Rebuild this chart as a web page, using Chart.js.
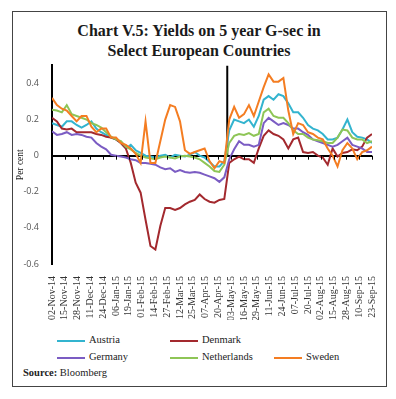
<!DOCTYPE html>
<html>
<head>
<meta charset="utf-8">
<script src="https://cdn.jsdelivr.net/npm/chart.js@4.4.1/dist/chart.umd.min.js"></script>
<style>
  html, body { margin: 0; padding: 0; background: #fff; }
  body { width: 396px; height: 399px; position: relative; overflow: hidden; }
  #frame { position: absolute; left: 12px; top: 11px; width: 375px; height: 376px; border: 1px solid #444; box-sizing: border-box; }
  #title { position: absolute; left: 0; top: 21px; width: 398px; text-align: center; font: bold 16px "Liberation Serif", serif; line-height: 20px; color: #1a1a1a; }
  #chart { position: absolute; left: 0; top: 47px; }
  .legLine { position: absolute; width: 28px; height: 2px; }
  .legText { position: absolute; font: 10.5px "Liberation Serif", serif; line-height: 14px; color: #222; white-space: nowrap; }
  #source { position: absolute; left: 23px; top: 366px; font: 10.5px "Liberation Serif", serif; line-height: 14px; color: #222; }
</style>
</head>
<body>
<div id="frame"></div>
<div id="title">Chart V.5: Yields on 5 year G-sec in<br>Select European Countries</div>
<canvas id="chart" width="396" height="273"></canvas>
<div id="legend"></div>
<div id="source"><b>Source:</b> Bloomberg</div>

<script>
// days since 02-Nov-14, one sample every 5 days
const days = [
  0, 5, 10, 15, 20, 25, 30, 35, 40, 45,
  50, 55, 60, 65, 70, 75, 80, 85, 90, 95,
  100, 105, 110, 115, 120, 125, 130, 135, 140, 145,
  150, 155, 160, 165, 170, 175, 180, 185, 190, 195,
  200, 205, 210, 215, 220, 225, 230, 235, 240, 245,
  250, 255, 260, 265, 270, 275, 280, 285, 290, 295,
  300, 305, 310, 315, 320, 325
];

const austria = [
  0.18, 0.17, 0.16, 0.19, 0.19, 0.17, 0.155, 0.17, 0.19, 0.15,
  0.13, 0.115, 0.10, 0.09, 0.07, 0.04, 0.06, 0.03, 0.015, 0.00,
  -0.005, -0.01, 0.00, 0.005, -0.01, 0.005, 0.00, -0.005, 0.005, 0.02,
  0.00, -0.01, -0.035, -0.06, -0.06, -0.03, 0.14, 0.20, 0.19, 0.18,
  0.20, 0.16, 0.22, 0.31, 0.33, 0.31, 0.34, 0.33, 0.29, 0.24,
  0.24, 0.21, 0.17, 0.15, 0.14, 0.12, 0.09, 0.09, 0.10, 0.145,
  0.20, 0.13, 0.105, 0.10, 0.09, 0.07
];

const denmark = [
  0.21, 0.19, 0.15, 0.145, 0.15, 0.13, 0.13, 0.13, 0.13, 0.12,
  0.115, 0.105, 0.10, 0.09, 0.07, 0.04, -0.04, -0.15, -0.205, -0.355,
  -0.50, -0.52, -0.39, -0.29, -0.29, -0.30, -0.29, -0.27, -0.255, -0.245,
  -0.215, -0.24, -0.255, -0.26, -0.245, -0.24, -0.04, -0.02, -0.005, -0.02,
  -0.02, -0.04, 0.04, 0.11, 0.14, 0.12, 0.11, 0.09, 0.04, 0.09,
  0.10, 0.02, 0.015, 0.02, 0.00, -0.01, -0.05, 0.04, -0.005, 0.015,
  0.02, 0.035, 0.03, 0.05, 0.10, 0.12
];

const germany = [
  0.135, 0.115, 0.12, 0.13, 0.115, 0.12, 0.115, 0.105, 0.10, 0.07,
  0.05, 0.035, 0.005, 0.00, -0.005, -0.01, -0.02, -0.025, -0.04, -0.04,
  -0.045, -0.05, -0.065, -0.075, -0.07, -0.09, -0.08, -0.09, -0.095, -0.09,
  -0.095, -0.105, -0.115, -0.125, -0.145, -0.12, -0.02, 0.035, 0.08, 0.06,
  0.06, 0.05, 0.06, 0.18, 0.21, 0.19, 0.17, 0.18, 0.17, 0.15,
  0.15, 0.13, 0.115, 0.09, 0.08, 0.07, 0.06, 0.05, 0.06, 0.08,
  0.10, 0.06, 0.05, 0.04, 0.02, 0.02
];

const netherlands = [
  0.255, 0.25, 0.24, 0.28, 0.23, 0.22, 0.21, 0.20, 0.18, 0.17,
  0.155, 0.13, 0.105, 0.09, 0.08, 0.05, 0.035, 0.015, 0.00, -0.01,
  -0.015, -0.02, -0.01, -0.005, -0.01, -0.015, -0.005, 0.00, -0.005, -0.01,
  -0.02, -0.04, -0.06, -0.085, -0.09, -0.05, 0.07, 0.11, 0.12, 0.115,
  0.125, 0.11, 0.12, 0.24, 0.26, 0.22, 0.21, 0.21, 0.18, 0.14,
  0.12, 0.12, 0.10, 0.09, 0.085, 0.08, 0.07, 0.07, 0.10, 0.145,
  0.14, 0.10, 0.09, 0.09, 0.07, 0.08
];

const sweden = [
  0.32, 0.28, 0.26, 0.25, 0.22, 0.19, 0.22, 0.22, 0.16, 0.13,
  0.15, 0.15, 0.10, 0.10, 0.07, 0.06, 0.04, 0.01, -0.04, 0.19,
  -0.04, -0.04, 0.08, 0.20, 0.28, 0.27, 0.19, 0.03, 0.01, 0.02,
  0.03, 0.04, -0.03, -0.07, -0.03, -0.04, 0.20, 0.27, 0.21, 0.23,
  0.28, 0.22, 0.30, 0.38, 0.45, 0.41, 0.41, 0.43, 0.25, 0.12,
  0.18, 0.17, 0.13, 0.12, 0.10, 0.09, 0.04, 0.00, -0.06, 0.03,
  0.07, 0.04, -0.02, 0.02, 0.03, 0.05
];

const seriesNames = ["Austria", "Denmark", "Germany", "Netherlands", "Sweden"];
const seriesValues = [austria, denmark, germany, netherlands, sweden];
const seriesColors = ["#33b4cf", "#a3292e", "#7b5cc3", "#8ec556", "#f47d22"];

// x tick labels every 13 days
const xTickLabels = [
  "02-Nov-14", "15-Nov-14", "28-Nov-14", "11-Dec-14", "24-Dec-14", "06-Jan-15",
  "19-Jan-15", "01-Feb-15", "14-Feb-15", "27-Feb-15", "12-Mar-15", "25-Mar-15",
  "07-Apr-15", "20-Apr-15", "03-May-15", "16-May-15", "29-May-15", "11-Jun-15",
  "24-Jun-15", "07-Jul-15", "20-Jul-15", "02-Aug-15", "15-Aug-15", "28-Aug-15",
  "10-Sep-15", "23-Sep-15"
];
const xTickStep = 13;
const yTicks = [-0.6, -0.4, -0.2, 0, 0.2, 0.4];
const markerDay = 178; // 29-Apr-15 vertical line

// legend placement (row, column)
const legendSlots = [[0, 0], [0, 1], [1, 0], [1, 1], [1, 2]];
const legendColX = [57, 170, 274];
const legendRowY = [341, 358];

const legend = document.getElementById("legend");
seriesNames.forEach((name, i) => {
  const [row, col] = legendSlots[i];
  const line = document.createElement("div");
  line.className = "legLine";
  line.style.left = legendColX[col] + "px";
  line.style.top = (legendRowY[row] - 1) + "px";
  line.style.background = seriesColors[i];
  legend.appendChild(line);
  const txt = document.createElement("div");
  txt.className = "legText";
  txt.style.left = (legendColX[col] + 32) + "px";
  txt.style.top = (legendRowY[row] - 8) + "px";
  txt.textContent = name;
  legend.appendChild(txt);
});

const zeroTicks = {
  id: "zeroTicks",
  afterDraw(chart) {
    const { ctx, scales: { x, y } } = chart;
    const y0 = y.getPixelForValue(0);
    ctx.save();
    ctx.strokeStyle = "#000";
    ctx.lineWidth = 1;
    x.ticks.forEach(t => {
      const px = Math.round(x.getPixelForValue(t.value)) + 0.5;
      ctx.beginPath();
      ctx.moveTo(px, y0);
      ctx.lineTo(px, y0 + 4);
      ctx.stroke();
    });
    ctx.restore();
  }
};

const datasets = seriesNames.map((name, i) => ({
  label: name,
  data: days.map((d, j) => ({ x: d, y: seriesValues[i][j] })),
  borderColor: seriesColors[i],
  borderWidth: 2,
  pointRadius: 0,
  tension: 0,
  order: seriesNames.length - i
}));
datasets.push({
  label: "",
  data: [{ x: markerDay, y: 0.5 }, { x: markerDay, y: 0 }],
  borderColor: "#000",
  borderWidth: 2,
  pointRadius: 0,
  order: 10
});

new Chart(document.getElementById("chart"), {
  type: "line",
  data: { datasets },
  options: {
    responsive: false,
    animation: false,
    layout: { padding: { top: 0, right: 19, left: 0, bottom: 0 } },
    plugins: { legend: { display: false }, tooltip: { enabled: false } },
    scales: {
      x: {
        type: "linear",
        min: 0,
        max: 325,
        afterBuildTicks: s => { s.ticks = xTickLabels.map((_, i) => ({ value: i * xTickStep })); },
        afterFit: s => { s.height = 56; },
        grid: { display: false, drawTicks: false },
        border: { display: false },
        ticks: {
          autoSkip: false,
          minRotation: 90,
          maxRotation: 90,
          padding: 12,
          color: "#333",
          font: { family: "Liberation Serif", size: 10 },
          callback: v => xTickLabels[Math.round(v / xTickStep)]
        }
      },
      y: {
        min: -0.6,
        max: 0.5,
        afterBuildTicks: s => { s.ticks = yTicks.map(v => ({ value: v })); },
        afterFit: s => { s.width = 52; },
        grid: {
          drawTicks: false,
          color: c => (c.tick && c.tick.value === 0 ? "#000" : "rgba(0,0,0,0)"),
          lineWidth: 2
        },
        border: { display: true, color: "#000", width: 2 },
        ticks: {
          padding: 13,
          color: "#555",
          font: { family: "Open Sans", size: 9 },
          callback: v => String(+v.toFixed(1))
        },
        title: {
          display: true,
          text: "Per cent",
          color: "#222",
          font: { family: "Liberation Serif", size: 9.5 },
          padding: { top: 15, bottom: 0 }
        }
      }
    }
  },
  plugins: [zeroTicks]
});
</script>
</body>
</html>
